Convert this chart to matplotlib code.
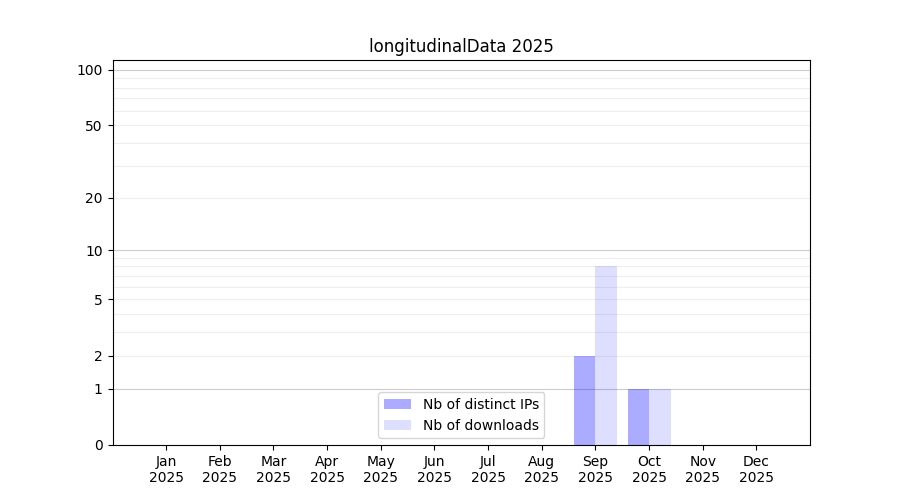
import numpy as np
import matplotlib
matplotlib.use("Agg")
import matplotlib.pyplot as plt

months = ["Jan", "Feb", "Mar", "Apr", "May", "Jun", "Jul", "Aug", "Sep", "Oct", "Nov", "Dec"]
year = "2025"
distinct_ips = [0, 0, 0, 0, 0, 0, 0, 0, 2, 1, 0, 0]
downloads = [0, 0, 0, 0, 0, 0, 0, 0, 8, 1, 0, 0]
yticks = [0, 1, 2, 5, 10, 20, 50, 100]

def fwd(y):
    return np.log10(1 + np.clip(y, 0, None))

def inv(y):
    return 10 ** y - 1

fig, ax = plt.subplots(figsize=(9, 5), dpi=100)
x = np.arange(len(months))
ax.bar(x - 0.2, distinct_ips, width=0.4, color="blue", alpha=0.33, label="Nb of distinct IPs")
ax.bar(x + 0.2, downloads, width=0.4, color="blue", alpha=0.13, label="Nb of downloads")

ax.set_yscale("function", functions=(fwd, inv))
ax.set_ylim(0, 113)
ax.set_xlim(-1, 12)
ax.set_yticks(yticks)
ax.set_yticklabels([str(t) for t in yticks])
minor = [v for v in list(range(2, 10)) + list(range(20, 100, 10))]
ax.set_yticks(minor, minor=True)
ax.tick_params(axis="y", which="minor", length=0)
ax.set_axisbelow(True)
for v in [1, 10, 100]:
    ax.axhline(v, color="#cccccc", lw=0.8, zorder=0)
for v in minor:
    ax.axhline(v, color="#eeeeee", lw=0.8, zorder=0)

ax.set_xticks(x)
ax.set_xticklabels([m + "\n" + year for m in months])
ax.set_title("longitudinalData " + year)
ax.legend(loc="lower center")

fig.savefig("out.png")
